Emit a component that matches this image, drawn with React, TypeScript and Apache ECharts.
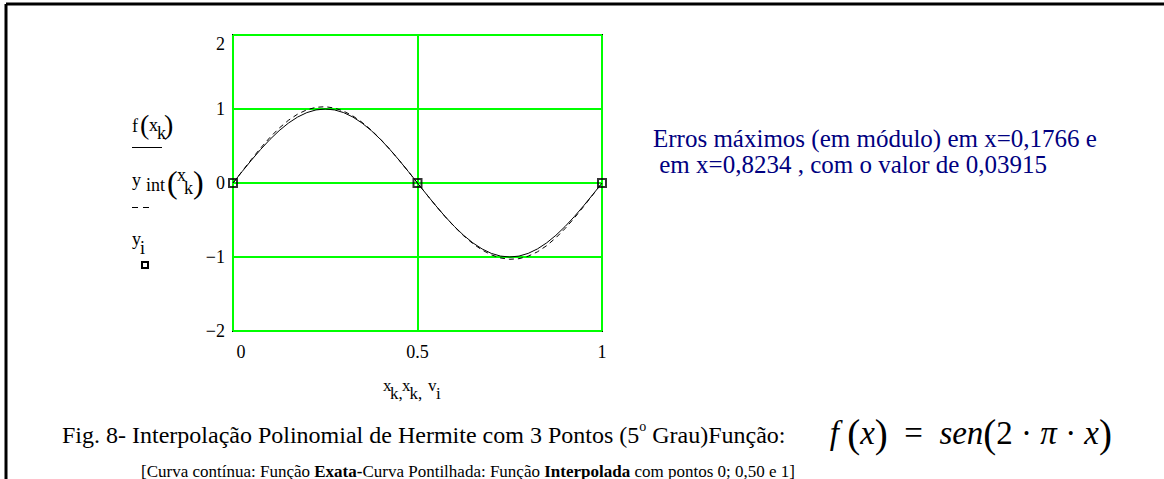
import React, { useEffect, useRef } from "react";
import * as echarts from "echarts";

// Sample abscissas on [0, 1]
const xs = [
  0, 0.025, 0.05, 0.075, 0.1, 0.125, 0.15, 0.175, 0.2, 0.225, 0.25, 0.275, 0.3, 0.325, 0.35,
  0.375, 0.4, 0.425, 0.45, 0.475, 0.5, 0.525, 0.55, 0.575, 0.6, 0.625, 0.65, 0.675, 0.7, 0.725,
  0.75, 0.775, 0.8, 0.825, 0.85, 0.875, 0.9, 0.925, 0.95, 0.975, 1,
];

// Exact function f(x) = sen(2·π·x)
const exactY = [
  0, 0.1564, 0.309, 0.454, 0.5878, 0.7071, 0.809, 0.891, 0.9511, 0.9877, 1, 0.9877, 0.9511,
  0.891, 0.809, 0.7071, 0.5878, 0.454, 0.309, 0.1564, 0, -0.1564, -0.309, -0.454, -0.5878,
  -0.7071, -0.809, -0.891, -0.9511, -0.9877, -1, -0.9877, -0.9511, -0.891, -0.809, -0.7071,
  -0.5878, -0.454, -0.309, -0.1564, 0,
];

// Hermite interpolating polynomial (5th degree) through 0; 0.5; 1
const hermiteY = [
  0, 0.1597, 0.3196, 0.4733, 0.6153, 0.7409, 0.8468, 0.9302, 0.9892, 1.0229, 1.0308, 1.0133,
  0.9711, 0.9058, 0.8191, 0.7133, 0.5911, 0.4555, 0.3095, 0.1565, 0, -0.1565, -0.3095, -0.4555,
  -0.5911, -0.7133, -0.8191, -0.9058, -0.9711, -1.0133, -1.0308, -1.0229, -0.9892, -0.9302,
  -0.8468, -0.7409, -0.6153, -0.4733, -0.3196, -0.1597, 0,
];

// Interpolation nodes
const nodeX = [0, 0.5, 1];
const nodeY = [0, 0, 0];

// Axis ranges
const xRange = [0, 1];
const yRange = [-2, 2];

const SERIF = "Liberation Serif";
const NAVY = "#000080";

function txt(text: string, x: number, y: number, size: number, extra: any = {}) {
  return {
    type: "text",
    x,
    y,
    silent: true,
    style: {
      text,
      fontSize: size,
      fontFamily: SERIF,
      fill: "#000",
      align: "left",
      verticalAlign: "middle",
      ...extra,
    },
  };
}

export default function App() {
  const ref = useRef<HTMLDivElement>(null);

  useEffect(() => {
    if (!ref.current) return;
    const chart = echarts.init(ref.current, undefined, { renderer: "svg" });

    const option: any = {
      animation: false,
      backgroundColor: "#fff",
      textStyle: { fontFamily: SERIF },
      grid: {
        left: 233,
        top: 35,
        width: 369,
        height: 296,
        show: true,
        borderColor: "#000",
        borderWidth: 2,
        backgroundColor: "transparent",
      },
      xAxis: {
        type: "value",
        min: xRange[0],
        max: xRange[1],
        interval: 0.5,
        axisLine: { show: false },
        axisTick: { show: false },
        splitLine: { show: true, lineStyle: { color: "#00ff00", width: 2 } },
        axisLabel: {
          color: "#000",
          fontFamily: SERIF,
          fontSize: 18,
          margin: 12,
          formatter: (v: number) => (v === 0 ? "{z|0}" : String(v)),
          rich: { z: { fontFamily: SERIF, fontSize: 18, padding: [0, 0, 0, 16] } },
        },
      },
      yAxis: {
        type: "value",
        min: yRange[0],
        max: yRange[1],
        interval: 1,
        axisLine: { show: false },
        axisTick: { show: false },
        splitLine: { show: true, lineStyle: { color: "#00ff00", width: 2 } },
        axisLabel: {
          color: "#000",
          fontFamily: SERIF,
          fontSize: 18,
          margin: 8,
          verticalAlignMaxLabel: "top",
          formatter: (v: number) => String(v).replace("-", "\u2212"),
        },
      },
      series: [
        {
          name: "f",
          type: "line",
          data: xs.map((x, i) => [x, exactY[i]]),
          showSymbol: false,
          lineStyle: { color: "#000", width: 1 },
          z: 3,
        },
        {
          name: "yint",
          type: "line",
          data: xs.map((x, i) => [x, hermiteY[i]]),
          showSymbol: false,
          lineStyle: { color: "#000", width: 1, type: [5, 4] },
          z: 3,
        },
        {
          name: "yi",
          type: "scatter",
          data: nodeX.map((x, i) => [x, nodeY[i]]),
          symbol: "rect",
          symbolSize: 8,
          clip: false,
          itemStyle: { color: "rgba(0,0,0,0)", borderColor: "#000", borderWidth: 2 },
          z: 4,
        },
      ],
      graphic: [
        // page frame
        { type: "line", silent: true, shape: { x1: 6, y1: 4, x2: 1164, y2: 4 }, style: { stroke: "#000", lineWidth: 3 } },
        { type: "line", silent: true, shape: { x1: 6, y1: 4, x2: 6, y2: 479 }, style: { stroke: "#000", lineWidth: 3 } },

        // legend: f(x_k)
        txt("f", 132, 126, 18),
        txt("(", 140, 124, 28),
        txt("x", 149, 125, 18),
        txt("k", 157, 133, 18),
        txt(")", 164, 124, 28),
        { type: "line", silent: true, shape: { x1: 132, y1: 147.5, x2: 162, y2: 147.5 }, style: { stroke: "#000", lineWidth: 1 } },

        // legend: y int(x_k)
        txt("y", 132, 180, 18),
        txt("int", 146, 185, 18),
        txt("(", 167, 182, 32),
        txt("x", 177, 175, 18),
        txt("k", 184, 188, 18),
        txt(")", 193, 182, 32),
        { type: "line", silent: true, shape: { x1: 132, y1: 207.5, x2: 138, y2: 207.5 }, style: { stroke: "#000", lineWidth: 1 } },
        { type: "line", silent: true, shape: { x1: 143, y1: 207.5, x2: 149, y2: 207.5 }, style: { stroke: "#000", lineWidth: 1 } },

        // legend: y_i
        txt("y", 132, 239, 18),
        txt("i", 140, 248, 18),
        { type: "rect", silent: true, shape: { x: 142, y: 262, width: 6, height: 6 }, style: { fill: "none", stroke: "#000", lineWidth: 2 } },

        // x-axis name: x_k, x_k, v_i
        txt("x", 383, 385, 17),
        txt("k,", 390, 393, 17),
        txt("x", 402, 385, 17),
        txt("k,", 409.5, 393, 17),
        txt("v", 428, 385, 17),
        txt("i", 436, 393, 17),

        // note on maximum errors
        txt("Erros máximos (em módulo) em x=0,1766 e", 653, 138, 25, { fill: NAVY }),
        txt(" em x=0,8234 , com o valor de 0,03915", 653, 164, 25, { fill: NAVY }),

        // caption
        {
          type: "text",
          x: 62,
          y: 433,
          silent: true,
          style: {
            text: "{a|Fig. 8- Interpolação Polinomial de Hermite com 3 Pontos (5}{s|o}{a| Grau)Função:}",
            fontFamily: SERIF,
            fontSize: 24,
            fill: "#000",
            align: "left",
            verticalAlign: "middle",
            rich: {
              a: { fontFamily: SERIF, fontSize: 24, lineHeight: 28, verticalAlign: "bottom" },
              s: { fontFamily: SERIF, fontSize: 14, lineHeight: 28, verticalAlign: "top" },
            },
          },
        },
        {
          type: "text",
          x: 1112,
          y: 433,
          silent: true,
          style: {
            text: "{i|f}{n| }{p|(}{i|x}{p|)}{n|  =  }{i|sen}{p|(}{n|2 · }{i|π}{n| · }{i|x}{p|)}",
            fontFamily: SERIF,
            fontSize: 33,
            fill: "#000",
            align: "right",
            verticalAlign: "middle",
            rich: {
              i: { fontFamily: SERIF, fontSize: 33, fontStyle: "italic", lineHeight: 40 },
              n: { fontFamily: SERIF, fontSize: 33, lineHeight: 40 },
              p: { fontFamily: SERIF, fontSize: 39, lineHeight: 40 },
            },
          },
        },

        // sub-caption
        {
          type: "text",
          x: 141,
          y: 471,
          silent: true,
          style: {
            text:
              "{r|[Curva contínua: Função }{b|Exata-}{r|Curva Pontilhada: Função }{b|Interpolada}{r| com pontos 0; 0,50 e 1]}",
            fontFamily: SERIF,
            fontSize: 17,
            fill: "#000",
            align: "left",
            verticalAlign: "middle",
            rich: {
              r: { fontFamily: SERIF, fontSize: 17 },
              b: { fontFamily: SERIF, fontSize: 17, fontWeight: "bold" },
            },
          },
        },
      ],
    };

    chart.setOption(option);
    return () => chart.dispose();
  }, []);

  return (
    <div
      ref={ref}
      style={{ position: "fixed", left: 0, top: 0, width: 1164, height: 479, background: "#fff" }}
    />
  );
}
